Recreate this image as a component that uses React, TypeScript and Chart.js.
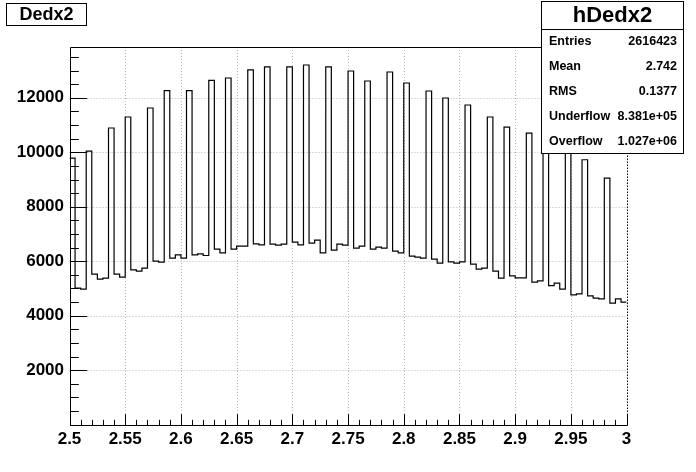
import React, { useEffect, useRef } from 'react';
import { Chart, registerables } from 'chart.js';

Chart.register(...registerables);

const X_MIN = 2.5;
const X_MAX = 3.0;
const BIN_WIDTH = 0.005;
const Y_MIN = 0;
const Y_MAX = 13864;

const binValues = [
  9788, 5011, 4974, 10045, 5526, 5342, 5379, 10890, 5526, 5415,
  11294, 5684, 5636, 5746, 11624, 6003, 5966, 12260, 6113, 6235,
  6113, 12260, 6235, 6272, 6210, 12639, 6444, 6308, 12727, 6444,
  6554, 6554, 13021, 6639, 6602, 13131, 6628, 6591, 6628, 13131,
  6701, 6602, 13204, 6665, 6775, 6308, 13131, 6407, 6628, 6591,
  12983, 6481, 6554, 12616, 6444, 6518, 6481, 12947, 6371, 6308,
  12543, 6187, 6150, 6113, 12249, 6077, 5930, 11992, 5978, 5930,
  5978, 11735, 5893, 5709, 5746, 11294, 5636, 5379, 10926, 5460,
  5390, 5390, 10706, 5232, 5280, 10400, 5107, 5195, 4974, 10100,
  4765, 4802, 9725, 4728, 4644, 4618, 9053, 4460, 4618, 4497,
];

const xTicks = [2.5, 2.55, 2.6, 2.65, 2.7, 2.75, 2.8, 2.85, 2.9, 2.95, 3.0];
const xTickLabels = ['2.5', '2.55', '2.6', '2.65', '2.7', '2.75', '2.8', '2.85', '2.9', '2.95', '3'];
const yTicks = [2000, 4000, 6000, 8000, 10000, 12000];
const yTickLabels = ['2000', '4000', '6000', '8000', '10000', '12000'];
const X_MINOR_STEP = 0.01;
const Y_MINOR_STEP = 500;

const titleText = 'Dedx2';
const statsName = 'hDedx2';
const statsLabels = ['Entries', 'Mean', 'RMS', 'Underflow', 'Overflow'];
const statsValues = ['2616423', '2.742', '0.1377', '8.381e+05', '1.027e+06'];

const FONT = '"Liberation Sans", Arial, Helvetica, sans-serif';

const rootPlugin = {
  id: 'rootStyle',
  beforeDatasetsDraw(chart: any) {
    const { ctx, chartArea: a, scales } = chart;
    const x = scales.x;
    const y = scales.y;
    ctx.save();
    ctx.lineWidth = 1;
    ctx.setLineDash([1, 2]);
    ctx.strokeStyle = '#b8b8b8';
    for (const v of xTicks) {
      if (v === X_MIN || v === X_MAX) continue;
      const px = Math.round(x.getPixelForValue(v)) + 0.5;
      ctx.beginPath();
      ctx.moveTo(px, a.top);
      ctx.lineTo(px, a.bottom);
      ctx.stroke();
    }
    for (const v of yTicks) {
      const py = Math.round(y.getPixelForValue(v)) + 0.5;
      ctx.beginPath();
      ctx.moveTo(a.left, py);
      ctx.lineTo(a.right, py);
      ctx.stroke();
    }
    ctx.restore();
  },
  afterDatasetsDraw(chart: any) {
    const { ctx, chartArea: a, scales } = chart;
    const x = scales.x;
    const y = scales.y;
    const L = Math.round(a.left) + 0.5;
    const R = Math.round(a.right) + 0.5;
    const T = Math.round(a.top) + 0.5;
    const B = Math.round(a.bottom) + 0.5;
    ctx.save();
    ctx.strokeStyle = '#000';
    ctx.lineWidth = 1;
    ctx.setLineDash([1.5, 1.5]);
    ctx.beginPath();
    ctx.moveTo(R, T);
    ctx.lineTo(R, B);
    ctx.stroke();
    ctx.setLineDash([]);
    ctx.beginPath();
    ctx.moveTo(R, T);
    ctx.lineTo(L, T);
    ctx.lineTo(L, B);
    ctx.lineTo(R, B);
    ctx.stroke();
    const plotH = a.bottom - a.top;
    const plotW = a.right - a.left;
    const xMajLen = 0.03 * plotH;
    const yMajLen = 0.03 * plotW;
    ctx.beginPath();
    const nx = Math.round((X_MAX - X_MIN) / X_MINOR_STEP);
    for (let i = 0; i <= nx; i++) {
      const v = X_MIN + i * X_MINOR_STEP;
      const px = Math.round(x.getPixelForValue(v)) + 0.5;
      const len = i % 5 === 0 ? xMajLen : xMajLen / 2;
      ctx.moveTo(px, B);
      ctx.lineTo(px, B - len);
    }
    const ny = Math.floor((Y_MAX - Y_MIN) / Y_MINOR_STEP);
    for (let i = 0; i <= ny; i++) {
      const v = Y_MIN + i * Y_MINOR_STEP;
      const py = Math.round(y.getPixelForValue(v)) + 0.5;
      const len = i % 4 === 0 ? yMajLen : yMajLen / 2;
      ctx.moveTo(L, py);
      ctx.lineTo(L + len, py);
    }
    ctx.stroke();

    ctx.fillStyle = '#fff';
    ctx.fillRect(6.5, 3.5, 80, 22);
    ctx.strokeRect(6.5, 3.5, 80, 22);
    ctx.fillStyle = '#000';
    ctx.font = `bold 18px ${FONT}`;
    ctx.textAlign = 'center';
    ctx.textBaseline = 'middle';
    ctx.fillText(titleText, 46.5, 15);

    const sx = 541.5, sy = 1.5, sw = 142, sh = 152;
    ctx.fillStyle = '#fff';
    ctx.fillRect(sx, sy, sw, sh);
    ctx.strokeRect(sx, sy, sw, sh);
    ctx.beginPath();
    ctx.moveTo(sx, 29.5);
    ctx.lineTo(sx + sw, 29.5);
    ctx.stroke();
    ctx.fillStyle = '#000';
    ctx.font = `bold 22px ${FONT}`;
    ctx.textAlign = 'center';
    ctx.fillText(statsName, sx + sw / 2, 16);
    ctx.font = `bold 12.5px ${FONT}`;
    const rowH = (sy + sh - 29.5) / statsLabels.length;
    statsLabels.forEach((lab, i) => {
      const ry = 29.5 + rowH * (i + 0.5);
      ctx.textAlign = 'left';
      ctx.fillText(lab, 549, ry);
      ctx.textAlign = 'right';
      ctx.fillText(statsValues[i], 677, ry);
    });
    ctx.restore();
  },
};

export default function App() {
  const ref = useRef<HTMLCanvasElement | null>(null);
  useEffect(() => {
    if (!ref.current) return;
    const points = binValues.map((v, i) => ({ x: X_MIN + i * BIN_WIDTH, y: v }));
    points.push({ x: X_MAX, y: binValues[binValues.length - 1] });
    const chart = new Chart(ref.current, {
      type: 'line',
      data: {
        datasets: [
          {
            data: points,
            stepped: 'before',
            borderColor: '#000',
            borderWidth: 1.2,
            pointRadius: 0,
            fill: false,
          },
        ],
      },
      options: {
        responsive: false,
        animation: false,
        devicePixelRatio: 1,
        layout: { padding: { top: 47, right: 69.4, left: 0, bottom: 0 } },
        plugins: { legend: { display: false }, tooltip: { enabled: false }, title: { display: false } },
        scales: {
          x: {
            type: 'linear',
            min: X_MIN,
            max: X_MAX,
            grid: { display: false, drawTicks: false },
            border: { display: false },
            afterBuildTicks: (s: any) => {
              s.ticks = xTicks.map((v) => ({ value: v }));
            },
            afterFit: (s: any) => {
              s.height = 47.3;
            },
            ticks: {
              autoSkip: false,
              maxRotation: 0,
              padding: 4,
              color: '#000',
              font: { family: FONT, size: 17, weight: 'bold' },
              callback: (_v: any, i: number) => xTickLabels[i],
            },
          },
          y: {
            type: 'linear',
            min: Y_MIN,
            max: Y_MAX,
            grid: { display: false, drawTicks: false },
            border: { display: false },
            afterBuildTicks: (s: any) => {
              s.ticks = yTicks.map((v) => ({ value: v }));
            },
            afterFit: (s: any) => {
              s.width = 69.5;
            },
            ticks: {
              autoSkip: false,
              padding: 5.5,
              color: '#000',
              font: { family: FONT, size: 17, weight: 'bold' },
              callback: (_v: any, i: number) => yTickLabels[i],
            },
          },
        },
      },
      plugins: [rootPlugin],
    });
    return () => chart.destroy();
  }, []);
  return (
    <div style={{ position: 'absolute', left: 0, top: 0, width: 696, height: 472, background: '#fff' }}>
      <canvas ref={ref} width={696} height={472} />
    </div>
  );
}
